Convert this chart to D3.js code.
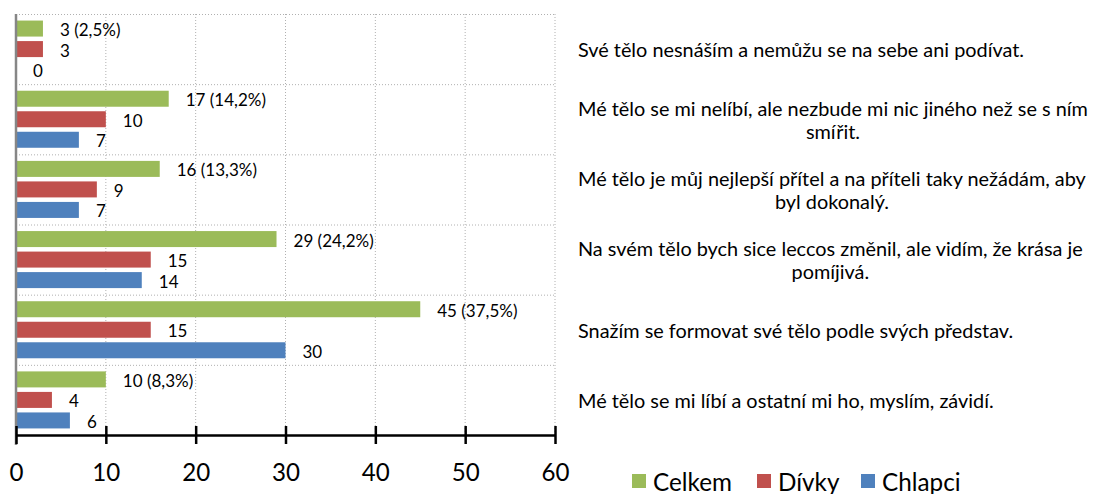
<!DOCTYPE html>
<html><head><meta charset="utf-8">
<script src="https://cdn.jsdelivr.net/npm/d3@7"></script>
<style>body{margin:0;background:#fff}svg{display:block}</style>
</head><body>
<script>
const categories = [
  "Své tělo nesnáším a nemůžu se na sebe ani podívat.",
  "Mé tělo se mi nelíbí, ale nezbude mi nic jiného než se s ním\nsmířit.",
  "Mé tělo je můj nejlepší přítel a na příteli taky nežádám, aby\nbyl dokonalý.",
  "Na svém tělo bych sice leccos změnil, ale vidím, že krása je\npomíjivá.",
  "Snažím se formovat své tělo podle svých představ.",
  "Mé tělo se mi líbí a ostatní mi ho, myslím, závidí."
];
const seriesNames = ["Celkem", "Dívky", "Chlapci"];
const celkem = [3, 17, 16, 29, 45, 10];
const celkemPct = ["2,5%", "14,2%", "13,3%", "24,2%", "37,5%", "8,3%"];
const divky = [3, 10, 9, 15, 15, 4];
const chlapci = [0, 7, 7, 14, 30, 6];
const xTicks = [0, 10, 20, 30, 40, 50, 60];
const colors = ["#9BBB59", "#C0504D", "#4F81BD"];

const W = 1096, H = 494;
const FONT = "Lato, 'Open Sans', sans-serif";
const svg = d3.select("body").append("svg").attr("width", W).attr("height", H);

function fitSize(sample, targetW, base) {
  const t = svg.append("text").attr("font-family", FONT).attr("font-size", base).text(sample);
  const w = t.node().getComputedTextLength();
  t.remove();
  return base * targetW / w;
}
const barFS = 17;
const catFS = fitSize("Mé tělo se mi nelíbí, ale nezbude mi nic jiného než se s ním", 510, 17);
const tickFS = fitSize("60", 28, 24);
const legFS = fitSize("Celkem", 79, 24);

const x = d3.scaleLinear().domain([0, 60]).range([16, 555]);
const y = d3.scaleBand().domain(d3.range(categories.length)).range([14, 435]);
const inner = d3.scaleBand().domain(d3.range(3)).range([0, y.bandwidth()]).paddingInner(0.22).paddingOuter(0.32);

const values = [celkem, divky, chlapci];

// grid
const g = svg.append("g");
g.selectAll(".vg").data(xTicks.slice(1)).join("line")
  .attr("x1", d => x(d)).attr("x2", d => x(d)).attr("y1", 14).attr("y2", 435)
  .attr("stroke", "#b0b0b0").attr("stroke-width", 1).attr("stroke-dasharray", "1,2");
g.selectAll(".hg").data(d3.range(categories.length)).join("line")
  .attr("x1", 16).attr("x2", x(60)).attr("y1", d => y(d) + 0.5).attr("y2", d => y(d) + 0.5)
  .attr("stroke", "#b0b0b0").attr("stroke-width", 1).attr("stroke-dasharray", "1,2");

// bars
categories.forEach((c, i) => {
  values.forEach((arr, s) => {
    const v = arr[i];
    const yy = y(i) + inner(s);
    if (v > 0) {
      svg.append("rect").attr("x", x(0)).attr("y", yy).attr("width", x(v) - x(0))
        .attr("height", inner.bandwidth()).attr("fill", colors[s]);
    }
    const label = s === 0 ? `${v} (${celkemPct[i]})` : `${v}`;
    svg.append("text").attr("x", x(v) + 17).attr("y", yy + inner.bandwidth() / 2 + 1)
      .attr("dominant-baseline", "central").attr("font-family", FONT).attr("font-size", barFS)
      .attr("fill", "#000").text(label);
  });
});

// left axis line
svg.append("line").attr("x1", 16).attr("x2", 16).attr("y1", 14).attr("y2", 445)
  .attr("stroke", "#868686").attr("stroke-width", 2.5);

// bottom axis
const axis = d3.axisBottom(x).tickValues(xTicks).tickSize(0).tickFormat(d3.format("d"));
const ax = svg.append("g").attr("transform", "translate(0,435)").call(axis);
ax.select(".domain").attr("stroke", "#000").attr("stroke-width", 2.5);
ax.selectAll(".tick line").remove();
ax.selectAll(".tick").append("line").attr("y1", -9).attr("y2", 9).attr("stroke", "#000").attr("stroke-width", 2.5);
ax.selectAll(".tick text").attr("y", 36).attr("dy", 0).attr("dominant-baseline", "central")
  .attr("font-family", FONT).attr("font-size", tickFS).attr("fill", "#000");

// category labels
const cl = svg.append("g").attr("font-family", FONT).attr("font-size", catFS).attr("fill", "#000");
categories.forEach((c, i) => {
  const lines = c.split("\n");
  const t = cl.append("text").attr("text-anchor", "middle");
  const tspans = lines.map((ln, k) => t.append("tspan").text(ln));
  const maxW = d3.max(tspans, ts => ts.node().getComputedTextLength());
  const cx = 578 + maxW / 2;
  const lh = 23;
  const cy = y(i) + y.bandwidth() / 2;
  tspans.forEach((ts, k) => {
    ts.attr("x", cx).attr("y", cy + (k - (lines.length - 1) / 2) * lh).attr("dominant-baseline", "central");
  });
});

// legend
const lg = svg.append("g").attr("font-family", FONT).attr("font-size", legFS);
const legendX = [632, 757, 861];
seriesNames.forEach((n, s) => {
  lg.append("rect").attr("x", legendX[s]).attr("y", 474).attr("width", 14).attr("height", 14).attr("fill", colors[s]);
  lg.append("text").attr("x", legendX[s] + 21).attr("y", 481).attr("dominant-baseline", "central").text(n);
});
</script>
</body></html>
